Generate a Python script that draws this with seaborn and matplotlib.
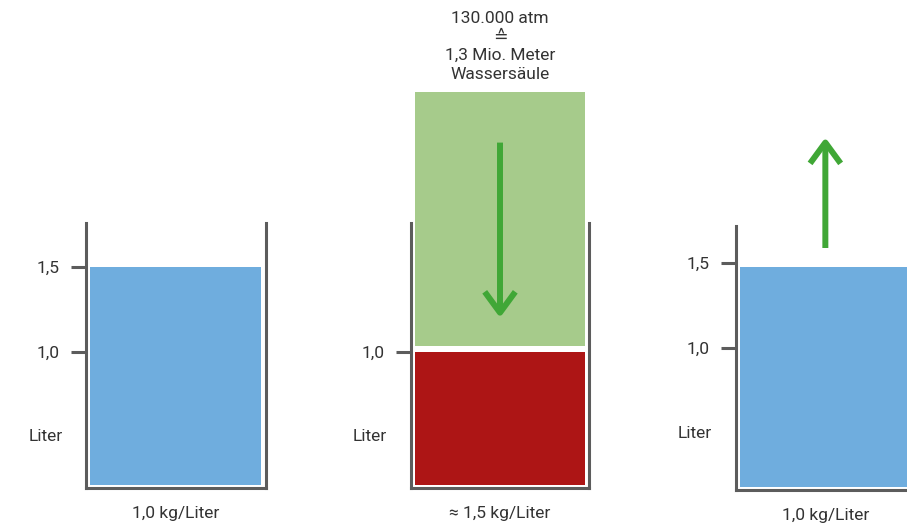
import pandas as pd
import matplotlib.pyplot as plt
import seaborn as sns

sns.set_theme(style="white")
plt.rcParams['font.family'] = ['Roboto', 'DejaVu Sans']

# Daten: drei Behälter (Wasser, Wasser unter Druck, entlastet)
density_labels = ["1,0 kg/Liter", "≈ 1,5 kg/Liter", "1,0 kg/Liter"]
water_level = [1.5, 1.0, 1.48]          # Liter
water_colors = ["#6FADDE", "#AD1515", "#6FADDE"]
tick_values = [[1.0, 1.5], [1.0], [1.0, 1.5]]
tick_labels = [["1,0", "1,5"], ["1,0"], ["1,0", "1,5"]]
column_bottom = 1.035                   # Wassersäule (grün) im mittleren Behälter
column_top = 2.53
pressure_text = "130.000 atm\n≙\n1,3 Mio. Meter\nWassersäule"

W, H = 907, 526
PX_PER_L = 170
# Behälter in Pixeln: links, rechts, oben, unten, y von 1,0 Liter
boxes = [(86, 265.7, 223, 488, 351.7),
         (410.7, 589.3, 223, 488, 351.7),
         (735.7, 915, 226, 490, 348.3)]

WALL = "#5C5C5C"
TXT = "#333333"
ARROW = "#40A736"
FS = 12.5

fig = plt.figure(figsize=(W / 100, H / 100), dpi=100)

for i, (l, r, t, b, y1) in enumerate(boxes):
    ax = fig.add_axes([l / W, (H - b) / H, (r - l) / W, (b - t) / H])
    ymin = 1 - (b - y1) / PX_PER_L
    ymax = 1 + (y1 - t) / PX_PER_L
    floor = ymin + 3 / PX_PER_L

    df = pd.DataFrame({"dichte": [density_labels[i]],
                       "hoehe": [water_level[i] - floor]})
    sns.barplot(data=df, x="dichte", y="hoehe", color=water_colors[i],
                width=0.95, bottom=floor, linewidth=0, saturation=1, ax=ax)

    arrow_kw = dict(arrowstyle="->,head_length=15,head_width=11",
                    mutation_scale=1, lw=4.3, color=ARROW,
                    shrinkA=0, shrinkB=0, capstyle="butt")
    if i == 1:
        col = pd.DataFrame({"dichte": [density_labels[i]],
                            "hoehe": [column_top - column_bottom]})
        sns.barplot(data=col, x="dichte", y="hoehe", color="#A6CB8B",
                    width=0.95, bottom=column_bottom, linewidth=0,
                    saturation=1, ax=ax, clip_on=False)
        ax.annotate(pressure_text, xy=(0, column_top), xytext=(0, 7),
                    textcoords="offset points", ha="center", va="bottom",
                    fontsize=FS, color=TXT, linespacing=1.3,
                    annotation_clip=False)
        ax.annotate("", xy=(0, 1.2), xytext=(0, 2.23), arrowprops=arrow_kw,
                    annotation_clip=False)
    if i == 2:
        ax.annotate("", xy=(0, 2.24), xytext=(0, 1.59), arrowprops=arrow_kw,
                    annotation_clip=False)

    ax.set_xlim(-0.5, 0.5)
    ax.set_ylim(ymin, ymax)
    ax.set_xlabel("")
    ax.set_ylabel("")
    ax.set_yticks(tick_values[i], tick_labels[i])
    ax.tick_params(axis="y", direction="out", length=11, width=2.2,
                   color=WALL, pad=8, labelsize=FS, labelcolor=TXT, left=True)
    ax.tick_params(axis="x", length=0, pad=13, labelsize=FS, labelcolor=TXT)
    ax.spines["top"].set_visible(False)
    for s in ["left", "right", "bottom"]:
        ax.spines[s].set_color(WALL)
        ax.spines[s].set_linewidth(2.2)
    if i == 2:
        ax.spines["right"].set_visible(False)

    ax.annotate("Liter", xy=(0, 0.5), xycoords=("axes fraction", "data"),
                xytext=(-17, 0), textcoords="offset points", ha="right",
                va="center", fontsize=FS, color=TXT)
    ax.set_facecolor("none")

fig.savefig("out.png", dpi=100)
